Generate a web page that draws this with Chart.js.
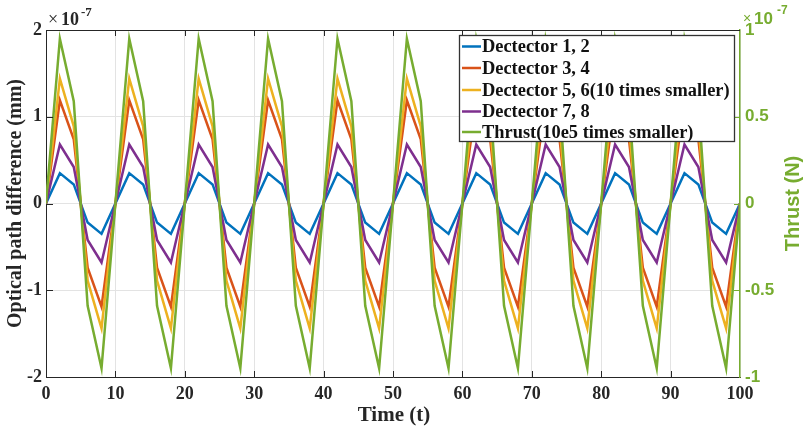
<!DOCTYPE html>
<html>
<head>
<meta charset="utf-8">
<script src="https://cdn.jsdelivr.net/npm/chart.js@4/dist/chart.umd.min.js"></script>
<style>
html,body{margin:0;padding:0;background:#fff;}
canvas{display:block;}
</style>
</head>
<body>
<canvas id="c" width="805" height="427"></canvas>
<script>
// Time samples
const timeVals = [0,2,4,6,8,10,12,14,16,18,20,22,24,26,28,30,32,34,36,38,40,42,44,46,48,50,52,54,56,58,60,62,64,66,68,70,72,74,76,78,80,82,84,86,88,90,92,94,96,98,100];
// Optical path difference, in units of 1e-7 mm
const det12 = [0,0.35,0.22,-0.22,-0.35,0,0.35,0.22,-0.22,-0.35,0,0.35,0.22,-0.22,-0.35,0,0.35,0.22,-0.22,-0.35,0,0.35,0.22,-0.22,-0.35,0,0.35,0.22,-0.22,-0.35,0,0.35,0.22,-0.22,-0.35,0,0.35,0.22,-0.22,-0.35,0,0.35,0.22,-0.22,-0.35,0,0.35,0.22,-0.22,-0.35,0];
const det34 = [0,1.19,0.74,-0.74,-1.19,0,1.19,0.74,-0.74,-1.19,0,1.19,0.74,-0.74,-1.19,0,1.19,0.74,-0.74,-1.19,0,1.19,0.74,-0.74,-1.19,0,1.19,0.74,-0.74,-1.19,0,1.19,0.74,-0.74,-1.19,0,1.19,0.74,-0.74,-1.19,0,1.19,0.74,-0.74,-1.19,0,1.19,0.74,-0.74,-1.19,0];
const det56 = [0,1.44,0.89,-0.89,-1.44,0,1.44,0.89,-0.89,-1.44,0,1.44,0.89,-0.89,-1.44,0,1.44,0.89,-0.89,-1.44,0,1.44,0.89,-0.89,-1.44,0,1.44,0.89,-0.89,-1.44,0,1.44,0.89,-0.89,-1.44,0,1.44,0.89,-0.89,-1.44,0,1.44,0.89,-0.89,-1.44,0,1.44,0.89,-0.89,-1.44,0];
const det78 = [0,0.68,0.42,-0.42,-0.68,0,0.68,0.42,-0.42,-0.68,0,0.68,0.42,-0.42,-0.68,0,0.68,0.42,-0.42,-0.68,0,0.68,0.42,-0.42,-0.68,0,0.68,0.42,-0.42,-0.68,0,0.68,0.42,-0.42,-0.68,0,0.68,0.42,-0.42,-0.68,0,0.68,0.42,-0.42,-0.68,0,0.68,0.42,-0.42,-0.68,0];
// Thrust, in units of 1e-7 N
const thrust = [0,0.95,0.59,-0.59,-0.95,0,0.95,0.59,-0.59,-0.95,0,0.95,0.59,-0.59,-0.95,0,0.95,0.59,-0.59,-0.95,0,0.95,0.59,-0.59,-0.95,0,0.95,0.59,-0.59,-0.95,0,0.95,0.59,-0.59,-0.95,0,0.95,0.59,-0.59,-0.95,0,0.95,0.59,-0.59,-0.95,0,0.95,0.59,-0.59,-0.95,0];

const seriesNames = ['Dectector 1, 2','Dectector 3, 4','Dectector 5, 6(10 times smaller)','Dectector 7, 8','Thrust(10e5 times smaller)'];
const xTitle = 'Time (t)';
const yTitle = 'Optical path difference (mm)';
const y2Title = 'Thrust (N)';

const COLORS = ['#0072BD','#D95319','#EDB120','#7E2F8E','#77AC30'];
const GREEN = '#77AC30';
const DARK = '#262626';
const SERIF = '"Liberation Serif", "Times New Roman", serif';
const SANS = '"Liberation Sans", Arial, sans-serif';

function pts(ys){ return timeVals.map((t,i)=>({x:t,y:ys[i]})); }
const allSeries = [det12, det34, det56, det78, thrust];

const datasets = allSeries.map((s,i)=>({
  label: seriesNames[i],
  data: pts(s),
  borderColor: COLORS[i],
  backgroundColor: COLORS[i],
  borderWidth: 2.5,
  pointRadius: 0,
  tension: 0,
  fill: false,
  yAxisID: i === 4 ? 'y1' : 'y',
  order: 5 - i
}));

const decor = {
  id: 'decor',
  afterDraw(chart){
    const ctx = chart.ctx;
    const a = chart.chartArea;
    const xs = chart.scales.x, ys = chart.scales.y, y1 = chart.scales.y1;
    ctx.save();
    // top border
    ctx.strokeStyle = DARK; ctx.lineWidth = 1;
    ctx.beginPath(); ctx.moveTo(a.left, a.top+0.5); ctx.lineTo(a.right, a.top+0.5); ctx.stroke();
    // inward ticks x
    for (let v=10; v<100; v+=10){
      const px = Math.round(xs.getPixelForValue(v))+0.5;
      ctx.beginPath(); ctx.moveTo(px,a.bottom); ctx.lineTo(px,a.bottom-6); ctx.stroke();
      ctx.beginPath(); ctx.moveTo(px,a.top); ctx.lineTo(px,a.top+6); ctx.stroke();
    }
    // inward ticks left
    for (let v=-1; v<=1; v++){
      const py = Math.round(ys.getPixelForValue(v))+0.5;
      ctx.beginPath(); ctx.moveTo(a.left,py); ctx.lineTo(a.left+7,py); ctx.stroke();
    }
    // inward ticks right (green)
    ctx.strokeStyle = GREEN;
    for (const v of [-0.5,0,0.5]){
      const py = Math.round(y1.getPixelForValue(v))+0.5;
      ctx.beginPath(); ctx.moveTo(a.right,py); ctx.lineTo(a.right-6,py); ctx.stroke();
    }
    // axis titles
    ctx.fillStyle = DARK;
    ctx.font = 'bold 21px ' + SERIF;
    ctx.textAlign = 'center'; ctx.textBaseline = 'alphabetic';
    ctx.fillText(xTitle, 394, 421);
    ctx.textBaseline = 'middle';
    ctx.save();
    ctx.font = 'bold 20px ' + SERIF;
    ctx.translate(16, (a.top+a.bottom)/2);
    ctx.rotate(-Math.PI/2);
    ctx.fillText(yTitle, 0, 0);
    ctx.restore();
    ctx.save();
    ctx.fillStyle = GREEN;
    ctx.font = 'bold 20px ' + SANS;
    ctx.translate(793, (a.top+a.bottom)/2);
    ctx.rotate(-Math.PI/2);
    ctx.fillText(y2Title, 0, 0);
    ctx.restore();
    // exponent labels
    ctx.textAlign = 'left'; ctx.textBaseline = 'alphabetic';
    ctx.fillStyle = DARK;
    ctx.font = '18px ' + SERIF;
    ctx.fillText('\u00D7', 48, 25);
    ctx.font = 'bold 18px ' + SERIF;
    ctx.fillText('10', 61, 25);
    ctx.font = 'bold 13px ' + SERIF;
    ctx.fillText('-7', 81, 16);
    ctx.fillStyle = GREEN;
    ctx.font = '14px ' + SANS;
    ctx.fillText('\u00D7', 743, 23);
    ctx.font = 'bold 17px ' + SANS;
    ctx.fillText('10', 754, 24);
    ctx.font = 'bold 12px ' + SANS;
    ctx.fillText('-7', 777, 14);
    // legend
    const lx = 459.5, ly = 35.5, lw = 275, lh = 106;
    ctx.fillStyle = '#fff';
    ctx.fillRect(lx, ly, lw, lh);
    ctx.strokeStyle = '#333'; ctx.lineWidth = 1.3;
    ctx.strokeRect(lx, ly, lw, lh);
    const rows = [46.5, 68, 90, 111.5, 132];
    ctx.font = 'bold 18.4px ' + SERIF;
    ctx.textBaseline = 'middle';
    for (let i=0;i<5;i++){
      ctx.strokeStyle = COLORS[i]; ctx.lineWidth = 2.5;
      ctx.beginPath(); ctx.moveTo(462, rows[i]); ctx.lineTo(481, rows[i]); ctx.stroke();
      ctx.fillStyle = '#111';
      ctx.fillText(seriesNames[i], 482, rows[i]+1);
    }
    ctx.restore();
  }
};

new Chart(document.getElementById('c'), {
  type: 'line',
  data: { datasets },
  options: {
    responsive: false,
    animation: false,
    devicePixelRatio: 1,
    layout: { padding: { top: 30, left: 0, right: 0, bottom: 0 } },
    plugins: { legend: { display: false }, tooltip: { enabled: false } },
    scales: {
      x: {
        type: 'linear', min: 0, max: 100,
        afterFit(s){ s.height = 50; },
        ticks: { stepSize: 10, color: DARK, font: { family: SERIF, size: 18, weight: 'bold' }, padding: 7, maxRotation: 0 },
        grid: { color: '#e3e3e3', drawTicks: false },
        border: { display: true, color: DARK, width: 1 }
      },
      y: {
        position: 'left', min: -2, max: 2,
        afterFit(s){ s.width = 46; },
        ticks: { stepSize: 1, color: DARK, font: { family: SERIF, size: 18, weight: 'bold' }, padding: 4 },
        grid: { color: '#e3e3e3', drawTicks: false },
        border: { display: true, color: DARK, width: 1 }
      },
      y1: {
        position: 'right', min: -1, max: 1,
        afterFit(s){ s.width = 65; },
        ticks: { stepSize: 0.5, color: GREEN, font: { family: SANS, size: 17, weight: 'bold' }, padding: 5,
                 callback: (v) => String(v) },
        grid: { drawOnChartArea: false, drawTicks: false },
        border: { display: true, color: GREEN, width: 1.5 }
      }
    }
  },
  plugins: [decor]
});
</script>
</body>
</html>
